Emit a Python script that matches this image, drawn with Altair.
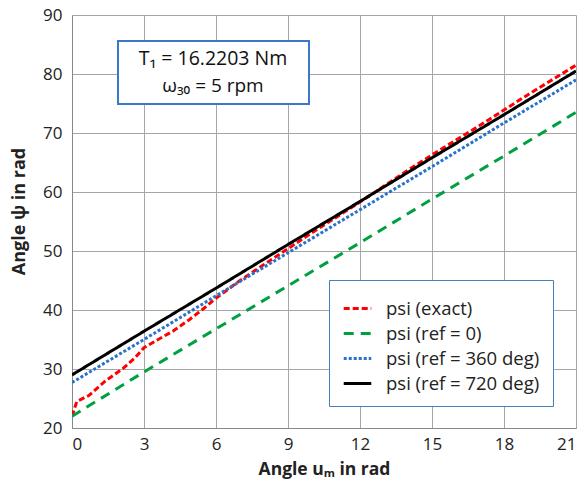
import altair as alt
import pandas as pd

# ---- data ----
series_names = ["psi (exact)", "psi (ref = 0)", "psi (ref = 360 deg)", "psi (ref = 720 deg)"]

exact_x = [0, 0.2, 0.7, 1.4, 2.1, 2.65, 3, 3.5, 4.2, 4.9, 5.5, 6, 7, 8, 9, 10, 11, 12, 13, 14, 15, 16, 17, 18, 19, 20, 21]
exact_y = [22, 24.5, 25.5, 28, 30, 32, 33.6, 34.8, 36.4, 38.4, 40.3, 42.0, 45, 47.7, 50.4, 53.1, 55.7, 58.3, 61.0, 63.7, 66.3, 68.8, 71.3, 73.9, 76.5, 79.0, 81.5]

ref_x = [0, 3, 6, 9, 12, 15, 18, 21]
ref0_y = [22.0, 29.5, 36.8, 44.1, 51.4, 58.8, 66.1, 73.5]
ref360_y = [27.7, 35.0, 42.4, 49.7, 57.0, 64.3, 71.7, 79.0]
ref720_y = [29.0, 36.4, 43.7, 51.1, 58.4, 65.8, 73.1, 80.5]

x_ticks = [0, 3, 6, 9, 12, 15, 18, 21]
y_ticks = [20, 30, 40, 50, 60, 70, 80, 90]

colors = ["#ff0000", "#00a040", "#2a72cc", "#000000"]
dashes = [[6, 3], [10, 7], [3, 2], [1, 0]]
widths = [3, 3, 1.1, 2.5]

annot_line1 = "T\u2081 = 16.2203 Nm"
annot_line2 = "\u03c9\u2083\u2080 = 5 rpm"

rows = []
for x, y in zip(exact_x, exact_y):
    rows.append({"x": x, "y": y, "s": series_names[0]})
for ys, name in [(ref0_y, series_names[1]), (ref360_y, series_names[2]), (ref720_y, series_names[3])]:
    for x, y in zip(ref_x, ys):
        rows.append({"x": x, "y": y, "s": name})
df = pd.DataFrame(rows)

W, H = 504, 413
FONT = "Open Sans"

lines = alt.Chart(df).mark_line(clip=True).encode(
    x=alt.X("x:Q", scale=alt.Scale(domain=[0, 21], nice=False),
            axis=alt.Axis(values=x_ticks, title="Angle u\u2098 in rad", grid=True,
                          labelFontSize=17, titleFontSize=17.5, titleFontWeight="bold",
                          labelFont=FONT, titleFont=FONT, labelColor="#222", titleColor="#222",
                          ticks=False, labelPadding=8, titlePadding=8,
                          domainColor="#888", gridColor="#a6a6a6")),
    y=alt.Y("y:Q", scale=alt.Scale(domain=[20, 90], nice=False),
            axis=alt.Axis(values=y_ticks, title="Angle \u03c8  in rad", grid=True,
                          labelFontSize=17, titleFontSize=18, titleFontWeight="bold",
                          labelFont=FONT, titleFont=FONT, labelColor="#222", titleColor="#222",
                          ticks=False, labelPadding=10, titlePadding=14, titleY=196,
                          domainColor="#888", gridColor="#a6a6a6")),
    color=alt.Color("s:N", scale=alt.Scale(domain=series_names, range=colors),
                    sort=series_names,
                    legend=alt.Legend(orient="none", legendX=257, legendY=265, title=None,
                                      fillColor="white", strokeColor="#4a7ebb", padding=13,
                                      labelFontSize=18.5, labelFont=FONT, labelColor="#222",
                                      symbolType="stroke", symbolSize=760, rowPadding=0,
                                      labelOffset=13, offset=0)),
    strokeDash=alt.StrokeDash("s:N", scale=alt.Scale(domain=series_names, range=dashes),
                              sort=series_names),
    strokeWidth=alt.StrokeWidth("s:N", scale=alt.Scale(domain=series_names, range=widths),
                                sort=series_names),
    order=alt.Order("x:Q"),
)

box = alt.Chart(pd.DataFrame({"a": [0]})).mark_rect(
    fill="white", stroke="#3a78c8", strokeWidth=2
).encode(x=alt.value(46), x2=alt.value(237), y=alt.value(26), y2=alt.value(89))

t1 = alt.Chart(pd.DataFrame({"t": [annot_line1]})).mark_text(
    font=FONT, fontSize=19.5, color="#111"
).encode(text="t:N", x=alt.value(141), y=alt.value(44))

t2 = alt.Chart(pd.DataFrame({"t": [annot_line2]})).mark_text(
    font=FONT, fontSize=19, color="#111"
).encode(text="t:N", x=alt.value(141), y=alt.value(71))

chart = alt.layer(lines, box, t1, t2).properties(
    width=W, height=H
).configure_view(stroke="#a6a6a6").configure(padding={"left": 10, "top": 6, "right": 5, "bottom": 5})

chart.save("out.html", embed_options={"renderer": "svg", "actions": False})
